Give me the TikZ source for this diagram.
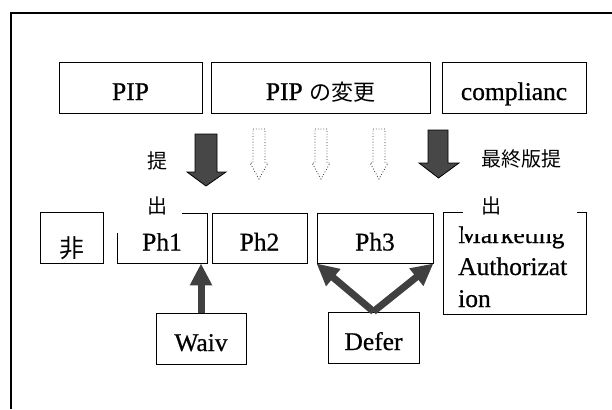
\documentclass[tikz,border=0pt]{standalone}
\usepackage{fontspec}
\setmainfont{Liberation Serif}[FakeBold=0.6]
\newfontfamily\cjk{Noto Sans CJK JP}
\usetikzlibrary{arrows.meta}

\begin{document}
\begin{tikzpicture}[x=1pt, y=-1pt,
  box/.style={draw=black, line width=0.9pt, inner sep=0pt,
    text height=25pt, text depth=0pt, font=\fontsize{25.5}{30}\selectfont},
  plain/.style={inner sep=0pt, font=\fontsize{25.5}{30}\selectfont},
  jlabel/.style={inner sep=0pt, font=\cjk\fontsize{20}{24}\selectfont},
  cover/.style={fill=white, draw=none, inner sep=0pt},
  solidarrow/.style={draw=black, line width=0.8pt, fill=black!72},
  hollowarrow/.style={draw=black!80, line width=0.8pt, dotted},
  fatlink/.style={draw=black!75, line width=7pt,
    -{Triangle[width=21pt, length=22pt]}},
]
\useasboundingbox (0,0) rectangle (612,409);
\fill[white] (0,0) rectangle (612,409);

% outer frame (right and bottom edges lie outside the page)
\draw[line width=1.2pt] (11,409) -- (11,13) -- (612,13);

% top row
\node[box, minimum width=143pt, minimum height=51pt] (pip)    at (130.5,87.5) {PIP};
\node[box, minimum width=219pt, minimum height=51pt] (pipchg) at (320.5,87.5)
  {PIP {\cjk\fontsize{22}{26}\selectfont の変更}};
\node[box, minimum width=144pt, minimum height=51pt] (compl)  at (514,87.5) {complianc};

% phase row
\node[box, minimum width=63pt, minimum height=51pt, text height=38pt] (hi) at (71.5,238)
  {\cjk\fontsize{25}{30}\selectfont 非};
\node[box, minimum width=90pt,  minimum height=50pt] (ph1) at (162,238) {Ph1};
\node[box, minimum width=95pt,  minimum height=50pt] (ph2) at (259.5,238) {Ph2};
\node[box, minimum width=116pt, minimum height=50pt] (ph3) at (375,238) {Ph3};
\node[box, minimum width=143pt, minimum height=102pt] (mkt) at (514.5,263) {};
\node[plain, anchor=base west] (mkt1) at (458,243) {Marketing};
\node[plain, anchor=base west] (mkt2) at (458,275) {Authorizat};
\node[plain, anchor=base west] (mkt3) at (458,307) {ion};

% bottom row
\node[box, minimum width=90pt, minimum height=51pt] (waiv)  at (201,338.5) {Waiv};
\node[box, minimum width=91pt, minimum height=51pt] (defer) at (373.5,337.5) {Defer};

% submission arrows
\draw[solidarrow] (195,134) -- (217,134) -- (217,172) -- (226,172) -- (206,186)
  -- (187,172) -- (195,172) -- cycle;
\draw[solidarrow] (428,130) -- (448,130) -- (448,163) -- (459,163) -- (438.5,178)
  -- (419,163) -- (428,163) -- cycle;
\foreach \c in {259,321,379}{
  \draw[hollowarrow] (\c-6,129) -- (\c+6,129) -- (\c+6,163) -- (\c+9,163)
    -- (\c,179) -- (\c-9,163) -- (\c-6,163) -- cycle;
}

% waiver and deferral links
\draw[fatlink] (waiv.north) -- (waiv.north |- ph1.south);
\draw[fatlink] (defer.north) -- (ph3.south west);
\draw[fatlink] (defer.north) -- (ph3.south east);

% submission labels on white panels
\node[cover, minimum width=72pt, minimum height=93pt, anchor=north west] (coverL) at (110,140) {};
\node[cover, minimum width=114pt, minimum height=94pt, anchor=north west] (coverR) at (463,140) {};
\node[jlabel, anchor=west] (teiL) at (147,161) {提};
\node[jlabel, anchor=west] (deL)  at (147,206) {出};
\node[jlabel, anchor=west] (teiR) at (481,159) {最終版提};
\node[jlabel, anchor=west] (deR)  at (481,206) {出};
\end{tikzpicture}
\end{document}
